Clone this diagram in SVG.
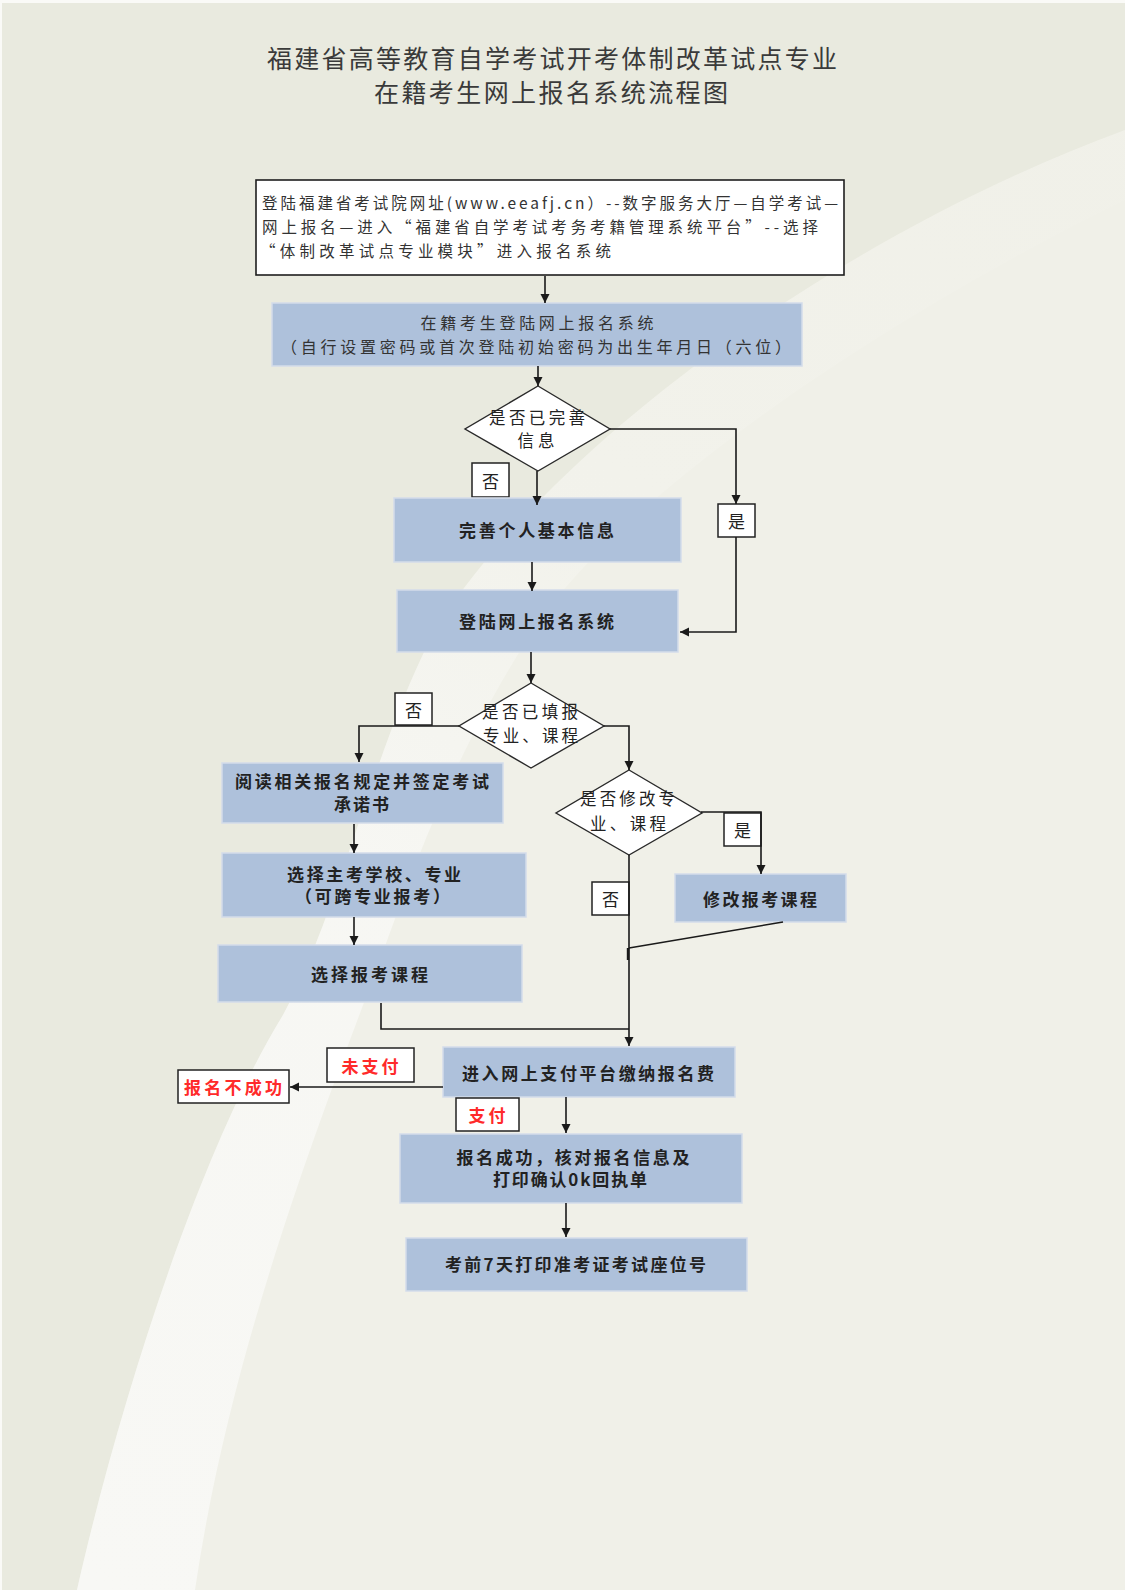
<svg xmlns="http://www.w3.org/2000/svg" width="1125" height="1590" viewBox="0 0 1125 1590">
<style>
.bg-base{fill:#f0f0e8}
.bg-dark{fill:#e9eadf}
.box{fill:#aec1db;stroke:#d3dcea;stroke-width:1.5}
.wbox{fill:#ffffff;stroke:#1e1e1e;stroke-width:1.6}
.dia{fill:#ffffff;stroke:#2a2a2a;stroke-width:1.4}
.lbl{fill:#ffffff;stroke:#222222;stroke-width:1.5}
text{font-family:"Noto Sans CJK SC","Noto Sans CJK JP","Noto Sans",sans-serif;dominant-baseline:central}
.title{font-size:25px;fill:#3a3a3a;text-anchor:middle}
.tl{font-size:15.5px;fill:#333333}
.tc{font-size:16px;fill:#333333;text-anchor:middle}
.tb{font-size:17px;fill:#222222;text-anchor:middle;font-weight:bold}
.td{font-size:16.5px;fill:#222222;text-anchor:middle}
.tlab{font-size:17px;fill:#222222;text-anchor:middle}
.tred{font-size:17px;fill:#ff2a2a;text-anchor:middle;font-weight:bold}
.conn{fill:none;stroke:#1a1a1a;stroke-width:1.6}
</style>
<defs>
<marker id="arr" viewBox="0 0 10 10" refX="10" refY="5" markerWidth="9" markerHeight="10" markerUnits="userSpaceOnUse" orient="auto">
<path d="M0,0 L10,5 L0,10 z" fill="#1a1a1a"/>
</marker>
<linearGradient id="bandg" gradientUnits="userSpaceOnUse" x1="100" y1="1590" x2="1000" y2="150">
<stop offset="0" stop-color="#f8f8f5" stop-opacity="1"/>
<stop offset="0.45" stop-color="#f8f8f5" stop-opacity="0.85"/>
<stop offset="0.7" stop-color="#f6f6f1" stop-opacity="0.35"/>
<stop offset="1" stop-color="#f6f6f1" stop-opacity="0.1"/>
</linearGradient>
</defs>

<g id="background">
<rect class="bg-base" x="0" y="0" width="1125" height="1590"/>
<path class="bg-dark" d="M0 0 L1125 0 L1125 130 C 800 250, 520 480, 430 640 C 370 760, 340 910, 283 1015 C 200 1150, 120 1400, 77 1590 L0 1590 Z"/>
<path fill="url(#bandg)" d="M77 1590 C 120 1400, 200 1150, 283 1015 C 340 910, 370 760, 430 640 C 520 480, 800 250, 1125 130 L1125 200 C 900 310, 640 480, 540 620 C 460 740, 420 850, 380 960 C 320 1120, 230 1350, 195 1590 Z"/>
<rect x="0" y="0" width="1125" height="3" fill="#fafaf7"/>
<rect x="0" y="0" width="2" height="1590" fill="#fafaf7"/>
</g>

<g id="title">
<text class="title" x="552" y="57" textLength="570" lengthAdjust="spacing">福建省高等教育自学考试开考体制改革试点专业</text>
<text class="title" x="551" y="91" textLength="354" lengthAdjust="spacing">在籍考生网上报名系统流程图</text>
</g>

<g id="n-login-site">
<rect class="wbox" x="256" y="180" width="588" height="95"/>
<text class="tl" x="262" y="202" textLength="576" lengthAdjust="spacing">登陆福建省考试院网址(www.eeafj.cn）--数字服务大厅—自学考试—</text>
<text class="tl" x="262" y="226" textLength="556" lengthAdjust="spacing">网上报名—进入“福建省自学考试考务考籍管理系统平台”--选择</text>
<text class="tl" x="260" y="250" textLength="351" lengthAdjust="spacing">“体制改革试点专业模块”进入报名系统</text>
</g>

<g id="n-login-system">
<rect class="box" x="272" y="303" width="530" height="63"/>
<text class="tc" x="537" y="322" textLength="233" lengthAdjust="spacing">在籍考生登陆网上报名系统</text>
<text class="tc" x="536" y="346" textLength="510" lengthAdjust="spacing">（自行设置密码或首次登陆初始密码为出生年月日（六位）</text>
</g>

<g id="n-dec-info">
<polygon class="dia" points="538,386 610,429 538,471 465,429"/>
<text class="td" x="537" y="417" textLength="96" lengthAdjust="spacing">是否已完善</text>
<text class="td" x="536" y="440" textLength="37" lengthAdjust="spacing">信息</text>
</g>

<g id="lbl-no-1">
<rect class="lbl" x="472" y="463" width="37" height="34"/>
<text class="tlab" x="490.5" y="480">否</text>
</g>

<g id="lbl-yes-1">
<rect class="lbl" x="718" y="504" width="37" height="33"/>
<text class="tlab" x="736.5" y="520.5">是</text>
</g>

<g id="n-complete-info">
<rect class="box" x="394" y="498" width="287" height="64"/>
<text class="tb" x="536.5" y="529" textLength="155" lengthAdjust="spacing">完善个人基本信息</text>
</g>

<g id="n-login-again">
<rect class="box" x="397" y="590" width="281" height="62"/>
<text class="tb" x="536.5" y="620" textLength="155" lengthAdjust="spacing">登陆网上报名系统</text>
</g>

<g id="n-dec-filled">
<polygon class="dia" points="531,683 604,726 531,768 459,726"/>
<text class="td" x="530" y="711" textLength="96" lengthAdjust="spacing">是否已填报</text>
<text class="td" x="530.5" y="735" textLength="95" lengthAdjust="spacing">专业、课程</text>
</g>

<g id="lbl-no-2">
<rect class="lbl" x="395" y="693" width="37" height="32"/>
<text class="tlab" x="413.5" y="709">否</text>
</g>

<g id="n-read-rules">
<rect class="box" x="222" y="763" width="281" height="60"/>
<text class="tb" x="362" y="780" textLength="254" lengthAdjust="spacing">阅读相关报名规定并签定考试</text>
<text class="tb" x="361.5" y="803" textLength="55" lengthAdjust="spacing">承诺书</text>
</g>

<g id="n-dec-modify">
<polygon class="dia" points="629,770 702,813 629,855 556,813"/>
<text class="td" x="627.5" y="798" textLength="95" lengthAdjust="spacing">是否修改专</text>
<text class="td" x="628" y="823" textLength="76" lengthAdjust="spacing">业、课程</text>
</g>

<g id="lbl-yes-2">
<rect class="lbl" x="724" y="813" width="37" height="33"/>
<text class="tlab" x="742.5" y="829.5">是</text>
</g>

<g id="lbl-no-3">
<rect class="lbl" x="592" y="882" width="37" height="33"/>
<text class="tlab" x="610.5" y="898.5">否</text>
</g>

<g id="n-modify-course">
<rect class="box" x="675" y="874" width="171" height="48"/>
<text class="tb" x="760" y="898" textLength="114" lengthAdjust="spacing">修改报考课程</text>
</g>

<g id="n-choose-school">
<rect class="box" x="222" y="853" width="304" height="64"/>
<text class="tb" x="374" y="873" textLength="174" lengthAdjust="spacing">选择主考学校、专业</text>
<text class="tb" x="372.5" y="895" textLength="155" lengthAdjust="spacing">（可跨专业报考）</text>
</g>

<g id="n-choose-course">
<rect class="box" x="218" y="945" width="304" height="57"/>
<text class="tb" x="369.5" y="973" textLength="117" lengthAdjust="spacing">选择报考课程</text>
</g>

<g id="n-payment">
<rect class="box" x="443" y="1047" width="292" height="50"/>
<text class="tb" x="588" y="1072" textLength="252" lengthAdjust="spacing">进入网上支付平台缴纳报名费</text>
</g>

<g id="lbl-unpaid">
<rect class="lbl" x="327" y="1048" width="87" height="34"/>
<text class="tred" x="370" y="1065" textLength="57" lengthAdjust="spacing">未支付</text>
</g>

<g id="n-failed">
<rect class="lbl" x="178" y="1070" width="111" height="33"/>
<text class="tred" x="233" y="1086.5" textLength="98" lengthAdjust="spacing">报名不成功</text>
</g>

<g id="lbl-paid">
<rect class="lbl" x="456" y="1098" width="63" height="33"/>
<text class="tred" x="487" y="1114" textLength="37" lengthAdjust="spacing">支付</text>
</g>

<g id="n-success">
<rect class="box" x="400" y="1134" width="342" height="69"/>
<text class="tb" x="573" y="1156" textLength="233" lengthAdjust="spacing">报名成功，核对报名信息及</text>
<text class="tb" x="570" y="1178" textLength="154" lengthAdjust="spacing">打印确认0k回执单</text>
</g>

<g id="n-print-ticket">
<rect class="box" x="406" y="1238" width="341" height="53"/>
<text class="tb" x="575.5" y="1263" textLength="261" lengthAdjust="spacing">考前7天打印准考证考试座位号</text>
</g>

<g id="connectors">
<path class="conn" d="M545 276 L545 303" marker-end="url(#arr)"/>
<path class="conn" d="M538 366 L538 386" marker-end="url(#arr)"/>
<path class="conn" d="M537 471 L537 505" marker-end="url(#arr)"/>
<path class="conn" d="M610 429 L736 429 L736 504" marker-end="url(#arr)"/>
<path class="conn" d="M736 537 L736 632 L680 632" marker-end="url(#arr)"/>
<path class="conn" d="M532 562 L532 591" marker-end="url(#arr)"/>
<path class="conn" d="M531 652 L531 683" marker-end="url(#arr)"/>
<path class="conn" d="M459 726 L359 726 L359 762" marker-end="url(#arr)"/>
<path class="conn" d="M604 726 L629 726 L629 770" marker-end="url(#arr)"/>
<path class="conn" d="M701 812 L761 812 L761 874" marker-end="url(#arr)"/>
<path class="conn" d="M629 855 L629 1046" marker-end="url(#arr)"/>
<path class="conn" d="M783 922 L629 948"/>
<path class="conn" d="M628 948 L628 960" style="stroke-width:2.4"/>
<path class="conn" d="M381 1003 L381 1029 L629 1029"/>
<path class="conn" d="M354 824 L354 853" marker-end="url(#arr)"/>
<path class="conn" d="M354 917 L354 945" marker-end="url(#arr)"/>
<path class="conn" d="M443 1087 L290 1087" marker-end="url(#arr)"/>
<path class="conn" d="M566 1097 L566 1133" marker-end="url(#arr)"/>
<path class="conn" d="M566 1203 L566 1237" marker-end="url(#arr)"/>
</g>
</svg>
